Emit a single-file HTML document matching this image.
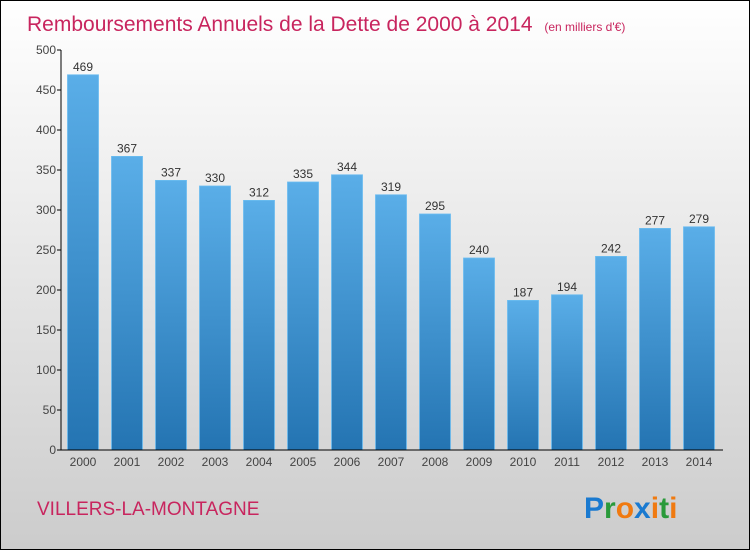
<!DOCTYPE html>
<html><head><meta charset="utf-8"><style>
html,body{margin:0;padding:0}
body{width:750px;height:550px;overflow:hidden;font-family:"Liberation Sans","DejaVu Sans",sans-serif}
#wrap{position:absolute;left:0;top:0;width:748px;height:548px;border:1px solid #000;background:linear-gradient(#ffffff 0%,#f0f0f0 30%,#cccccc 100%)}
</style></head><body>
<div id="wrap">
<svg id="chart" width="748" height="548" xmlns="http://www.w3.org/2000/svg">
<defs><linearGradient id="bg" x1="0" y1="0" x2="0" y2="1"><stop offset="0" stop-color="#5aaee8"/><stop offset="1" stop-color="#2474b2"/></linearGradient></defs>
<text x="26" y="30" font-size="21" fill="#c8255e" style="font-weight:300">Remboursements Annuels de la Dette de 2000 à 2014 <tspan font-size="12" dx="6">(en milliers d'€)</tspan></text>
<text x="36" y="514" font-size="19" fill="#c8255e">VILLERS-LA-MONTAGNE</text>
<text x="583" y="517" font-size="30" font-weight="bold"><tspan fill="#1a7ad0">P</tspan><tspan fill="#2a9a3a">r</tspan><tspan fill="#f07a10">o</tspan><tspan fill="#1a7ad0">x</tspan><tspan fill="#f07a10">i</tspan><tspan fill="#2a9a3a">t</tspan><tspan fill="#f07a10">i</tspan></text>
<g id="plot"></g>
</svg>
</div>
<script>
const categories=["2000","2001","2002","2003","2004","2005","2006","2007","2008","2009","2010","2011","2012","2013","2014"];
const values=[469,367,337,330,312,335,344,319,295,240,187,194,242,277,279];
const yTicks=[0,50,100,150,200,250,300,350,400,450,500];
const X0=60,X1=720,Y0=449,YMAX=500,PH=400;
const band=(X1-X0)/categories.length;
function y(v){return Y0-v/YMAX*PH;}
function x(i){return X0+i*band;}
const g=document.getElementById('plot');
const NS='http://www.w3.org/2000/svg';
function mk(t,a){const e=document.createElementNS(NS,t);for(const k in a)e.setAttribute(k,a[k]);g.appendChild(e);return e;}
yTicks.forEach(t=>{
  const l=mk('line',{x1:X0-4,x2:X0,y1:y(t),y2:y(t),stroke:'#000'});
  
  
  const tx=mk('text',{x:X0-5,y:y(t)+4,'font-size':12,fill:'#444','text-anchor':'end'});
  tx.textContent=t;
  
  
});
values.forEach((v,i)=>{
  const bw=31,bx=x(i)+(band-bw)/2;
  const r=mk('rect',{x:bx,y:y(v),width:bw,height:Y0-y(v),fill:'url(#bg)',stroke:'#6bbcf0','stroke-width':0.8});
  
  
  const vl=mk('text',{x:bx+bw/2,y:y(v)-4,'font-size':12,fill:'#333','text-anchor':'middle'});
  vl.textContent=v;
  
  
  const cl=mk('text',{x:bx+bw/2,y:Y0+16,'font-size':12,fill:'#444','text-anchor':'middle'});
  cl.textContent=categories[i];
  
  
});
const ya=mk('line',{x1:X0,x2:X0,y1:y(500),y2:Y0,stroke:'#000','stroke-width':1});


const xa=mk('line',{x1:X0,x2:X1+2,y1:Y0,y2:Y0,stroke:'#000','stroke-width':1});


</script>
</body></html>
